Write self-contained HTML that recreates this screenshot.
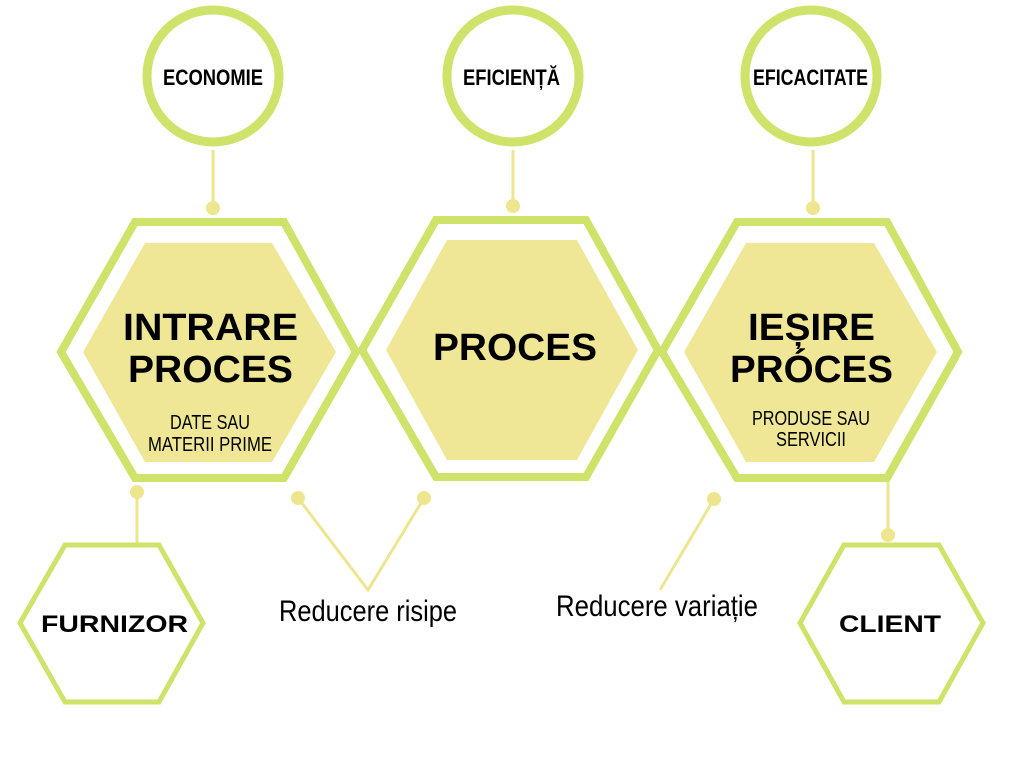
<!DOCTYPE html>
<html><head><meta charset="utf-8"><style>
html,body{margin:0;padding:0;background:#fff;width:1024px;height:768px;overflow:hidden}
svg{display:block}
text{font-family:"Liberation Sans","DejaVu Sans",sans-serif;fill:#000}
.c{font-weight:bold}
.b{font-weight:bold}
</style></head><body>
<svg width="1024" height="768" viewBox="0 0 1024 768">
<g stroke="#eee68f" stroke-width="3" fill="none">
<line x1="213" y1="150" x2="213" y2="208"/>
<line x1="513" y1="150" x2="513" y2="206"/>
<line x1="813" y1="150" x2="813" y2="208"/>
<line x1="137" y1="492" x2="137" y2="545"/>
<line x1="888" y1="481" x2="888" y2="535"/>
<polyline points="298,498 368,590 424,498"/>
<line x1="714" y1="499" x2="660" y2="590"/>
</g>
<g fill="#eee68f">
<circle cx="213" cy="208" r="7"/><circle cx="513" cy="206" r="7"/><circle cx="813" cy="208" r="7"/>
<circle cx="137" cy="492" r="7"/><circle cx="888" cy="535" r="7"/>
<circle cx="298" cy="498" r="7"/><circle cx="424" cy="498" r="7"/><circle cx="714" cy="499" r="7"/>
</g>
<g fill="#fff" stroke="#cde36a" stroke-width="9">
<circle cx="213" cy="76" r="66"/><circle cx="513" cy="76" r="66"/><circle cx="811" cy="76" r="66"/>
</g>
<g fill="none" stroke="#cde36a" stroke-width="8">
<polygon points="61,352 135,222 284,222 356,352 284,478 135,478"/>
<polygon points="362,350 436,220 586,220 658,350 586,477 436,477"/>
<polygon points="662,352 737,222 887,222 958,352 887,478 737,478"/>
</g>
<g fill="#efe796">
<polygon points="83,352 145,243 272,243 336,352 272,462 145,462"/>
<polygon points="386,350 447,240 577,240 638,350 577,460 447,460"/>
<polygon points="684,352 746,243 874,243 937,352 874,462 746,462"/>
</g>
<g fill="none" stroke="#cde36a" stroke-width="5">
<polygon points="20,623 65,545 159,545 203,623 159,702 65,702"/>
<polygon points="800,623 844,545 939,545 983,623 939,702 844,702"/>
</g>
<text class="c" x="163" y="85" font-size="22" textLength="100" lengthAdjust="spacingAndGlyphs">ECONOMIE</text>
<text class="c" x="463" y="85" font-size="22" textLength="97" lengthAdjust="spacingAndGlyphs">EFICIENȚĂ</text>
<text class="c" x="753" y="85" font-size="22" textLength="115" lengthAdjust="spacingAndGlyphs">EFICACITATE</text>
<text class="b" x="123" y="340" font-size="38" textLength="175" lengthAdjust="spacingAndGlyphs">INTRARE</text>
<text class="b" x="128" y="382" font-size="38" textLength="165" lengthAdjust="spacingAndGlyphs">PROCES</text>
<text x="170" y="429" font-size="20" textLength="80" lengthAdjust="spacingAndGlyphs">DATE SAU</text>
<text x="148" y="451" font-size="20" textLength="124" lengthAdjust="spacingAndGlyphs">MATERII PRIME</text>
<text class="b" x="433" y="360" font-size="38" textLength="164" lengthAdjust="spacingAndGlyphs">PROCES</text>
<text class="b" x="748" y="340" font-size="38" textLength="127" lengthAdjust="spacingAndGlyphs">IEȘIRE</text>
<text class="b" x="730" y="382" font-size="38" textLength="163" lengthAdjust="spacingAndGlyphs">PRÓCES</text>
<text x="752" y="425" font-size="20" textLength="118" lengthAdjust="spacingAndGlyphs">PRODUSE SAU</text>
<text x="776" y="446" font-size="20" textLength="70" lengthAdjust="spacingAndGlyphs">SERVICII</text>
<text class="b" x="41" y="632" font-size="24" textLength="147" lengthAdjust="spacingAndGlyphs">FURNIZOR</text>
<text class="b" x="839" y="632" font-size="24" textLength="102" lengthAdjust="spacingAndGlyphs">CLIENT</text>
<text x="279" y="621" font-size="30" textLength="178" lengthAdjust="spacingAndGlyphs">Reducere risipe</text>
<text x="556" y="616" font-size="30" textLength="202" lengthAdjust="spacingAndGlyphs">Reducere variație</text>
</svg>
</body></html>
